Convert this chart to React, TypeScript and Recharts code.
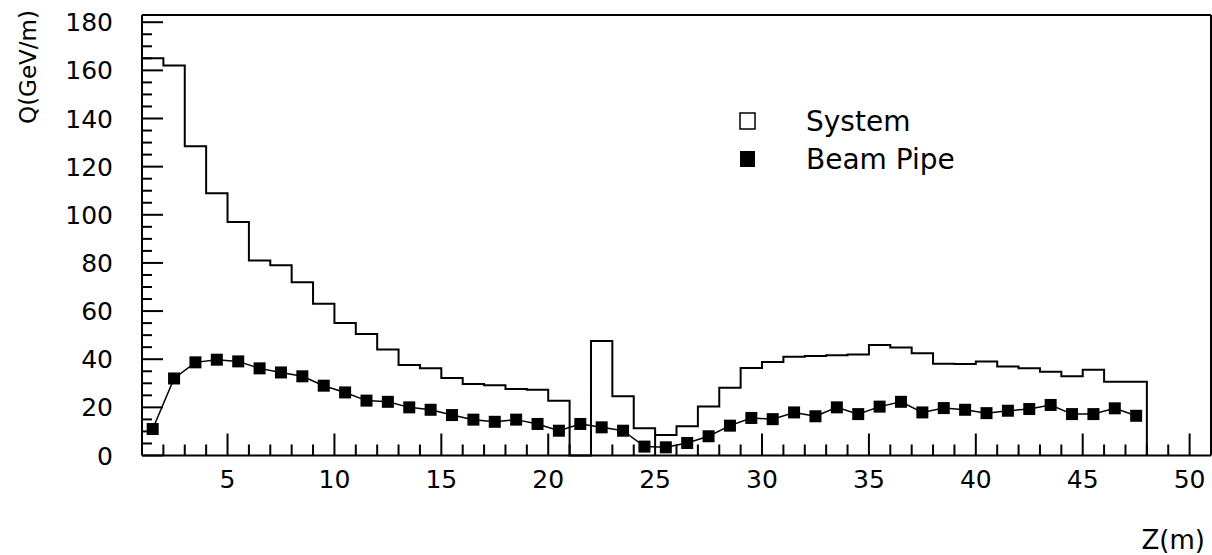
import React from "react";
import { ComposedChart, Line, XAxis, YAxis, Legend, Label, ReferenceLine } from "recharts";

// histogram bin edges (m) and System energy deposit per bin (last edge closes the histogram)
const binEdges = [
  1, 2, 3, 4, 5, 6, 7, 8, 9, 10, 11, 12, 13, 14, 15, 16, 17, 18, 19, 20, 21, 22, 23, 24,
  25, 26, 27, 28, 29, 30, 31, 32, 33, 34, 35, 36, 37, 38, 39, 40, 41, 42, 43, 44, 45, 46, 47, 48,
];
const systemQ = [
  165, 162, 128.5, 109, 97, 81, 79, 72, 63, 55, 50.5, 44, 37.6, 36.2, 32.2, 29.7, 29.2, 27.6,
  27.3, 22.7, 0, 47.6, 24.6, 11.3, 8.5, 12.1, 20.4, 28.1, 36.4, 38.8, 41, 41.3, 41.6, 42, 45.9,
  44.9, 42.5, 38.1, 38, 39.1, 37, 36.2, 34.8, 32.9, 35.6, 30.6, 30.6, 0,
];

// beam pipe values at bin centres
const pipeZ = [
  1.5, 2.5, 3.5, 4.5, 5.5, 6.5, 7.5, 8.5, 9.5, 10.5, 11.5, 12.5, 13.5, 14.5, 15.5, 16.5, 17.5,
  18.5, 19.5, 20.5, 21.5, 22.5, 23.5, 24.5, 25.5, 26.5, 27.5, 28.5, 29.5, 30.5, 31.5, 32.5, 33.5,
  34.5, 35.5, 36.5, 37.5, 38.5, 39.5, 40.5, 41.5, 42.5, 43.5, 44.5, 45.5, 46.5, 47.5,
];
const pipeQ = [
  11, 32, 38.7, 39.8, 39.1, 36.2, 34.5, 32.9, 29, 26.2, 22.8, 22.3, 20, 19, 16.8, 14.9, 14, 14.9,
  13.1, 10.3, 13.1, 11.7, 10.3, 3.7, 3.4, 5.2, 8, 12.4, 15.6, 15.1, 17.9, 16.3, 20, 17.2, 20.3,
  22.3, 17.9, 19.7, 19, 17.6, 18.6, 19.3, 21, 17.2, 17.2, 19.6, 16.5,
];

const xTicks = [
  2, 3, 4, 5, 6, 7, 8, 9, 10, 11, 12, 13, 14, 15, 16, 17, 18, 19, 20, 21, 22, 23, 24, 25, 26,
  27, 28, 29, 30, 31, 32, 33, 34, 35, 36, 37, 38, 39, 40, 41, 42, 43, 44, 45, 46, 47, 48, 49, 50,
];
const yTicks = [
  0, 5, 10, 15, 20, 25, 30, 35, 40, 45, 50, 55, 60, 65, 70, 75, 80, 85, 90, 95, 100, 105, 110,
  115, 120, 125, 130, 135, 140, 145, 150, 155, 160, 165, 170, 175, 180,
];

const X_MIN = 1;
const X_MAX = 51;
const Y_MAX = 183;

// plot size in px, used to turn tick lengths into axis units
const PLOT_W = 1068.7;
const PLOT_H = 440.5;
const xUnitPx = PLOT_W / (X_MAX - X_MIN);
const yUnitPx = PLOT_H / Y_MAX;

const seriesNames = ["System", "Beam Pipe"];

const systemData = binEdges.map((z, i) => ({ z, q: systemQ[i] }));
const pipeData = pipeZ.map((z, i) => ({ z, q: pipeQ[i] }));

const FONT = "DejaVu Sans";

function XTick(props: any) {
  const { x, y, payload } = props;
  const v = payload.value;
  if (v % 5 !== 0) return <g />;
  return (
    <text x={x} y={y + 32} textAnchor="middle" fontFamily={FONT} fontSize={25} fill="#000">
      {v}
    </text>
  );
}

function YTick(props: any) {
  const { x, y, payload } = props;
  const v = payload.value;
  if (v % 20 !== 0) return <g />;
  return (
    <text x={x - 29} y={y + 9} textAnchor="end" fontFamily={FONT} fontSize={25} fill="#000">
      {v}
    </text>
  );
}

function SquareDot(props: any) {
  const { cx, cy, index } = props;
  return <rect key={index} x={cx - 6} y={cy - 6} width={12} height={12} fill="#000" />;
}

function LegendBox() {
  return (
    <svg width={260} height={80} style={{ overflow: "visible" }}>
      <rect x={3} y={6} width={15} height={16} fill="#fff" stroke="#000" strokeWidth={1.5} />
      <text x={69} y={24} fontFamily={FONT} fontSize={28} fill="#000">
        {seriesNames[0]}
      </text>
      <rect x={3} y={44} width={15} height={16} fill="#000" />
      <text x={69} y={62} fontFamily={FONT} fontSize={28} fill="#000">
        {seriesNames[1]}
      </text>
    </svg>
  );
}

export default function App() {
  return (
    <div style={{ position: "absolute", left: 0, top: 0, width: 1212, height: 555, background: "#fff" }}>
      <ComposedChart width={1212} height={555} margin={{ top: 15, right: 1, left: 0, bottom: 0 }}>
        <XAxis
          xAxisId="bottom"
          dataKey="z"
          type="number"
          domain={[X_MIN, X_MAX]}
          ticks={xTicks}
          interval={0}
          height={99.5}
          tickSize={0}
          tickMargin={0}
          tickLine={false}
          tick={<XTick />}
          axisLine={{ stroke: "#000", strokeWidth: 2 }}
        >
          <Label
            value="Z(m)"
            position="insideBottomRight"
            offset={6}
            fontFamily={FONT}
            fontSize={26}
            fill="#000"
          />
        </XAxis>
        <YAxis
          yAxisId="left"
          type="number"
          domain={[0, Y_MAX]}
          ticks={yTicks}
          interval={0}
          width={142}
          tickSize={0}
          tickMargin={0}
          tickLine={false}
          tick={<YTick />}
          axisLine={{ stroke: "#000", strokeWidth: 2 }}
        >
          <Label
            content={(p: any) => {
              const vb = p.viewBox || { x: 0, y: 15 };
              return (
                <text
                  x={vb.x + 36}
                  y={vb.y + 52}
                  transform={`rotate(-90 ${vb.x + 36} ${vb.y + 52})`}
                  textAnchor="middle"
                  fontFamily={FONT}
                  fontSize={23}
                  fill="#000"
                >
                  Q(GeV/m)
                </text>
              );
            }}
          />
        </YAxis>
        {/* frame: top and right edges */}
        <ReferenceLine xAxisId="bottom" yAxisId="left" y={Y_MAX} stroke="#000" strokeWidth={2} />
        <ReferenceLine xAxisId="bottom" yAxisId="left" x={X_MAX} stroke="#000" strokeWidth={2} />
        {/* inward tick marks, long on labelled values */}
        {xTicks.map((t) => (
          <ReferenceLine
            key={`xt${t}`}
            xAxisId="bottom"
            yAxisId="left"
            segment={[
              { x: t, y: 0 },
              { x: t, y: (t % 5 === 0 ? 22 : 11) / yUnitPx },
            ]}
            stroke="#000"
            strokeWidth={2}
          />
        ))}
        {yTicks.map((t) => (
          <ReferenceLine
            key={`yt${t}`}
            xAxisId="bottom"
            yAxisId="left"
            segment={[
              { x: X_MIN, y: t },
              { x: X_MIN + (t % 20 === 0 ? 21 : 10) / xUnitPx, y: t },
            ]}
            stroke="#000"
            strokeWidth={2}
          />
        ))}
        <Line
          xAxisId="bottom"
          yAxisId="left"
          data={systemData}
          dataKey="q"
          name={seriesNames[0]}
          type="stepAfter"
          stroke="#000"
          strokeWidth={2}
          fill="none"
          dot={false}
          activeDot={false}
          isAnimationActive={false}
        />
        <Line
          xAxisId="bottom"
          yAxisId="left"
          data={pipeData}
          dataKey="q"
          name={seriesNames[1]}
          type="linear"
          stroke="#000"
          strokeWidth={1.5}
          fill="none"
          dot={<SquareDot />}
          activeDot={false}
          isAnimationActive={false}
        />
        <Legend
          layout="vertical"
          align="center"
          verticalAlign="middle"
          content={() => <LegendBox />}
          wrapperStyle={{ position: "absolute", left: 737, top: 107, width: 260, height: 80 }}
        />
      </ComposedChart>
    </div>
  );
}
